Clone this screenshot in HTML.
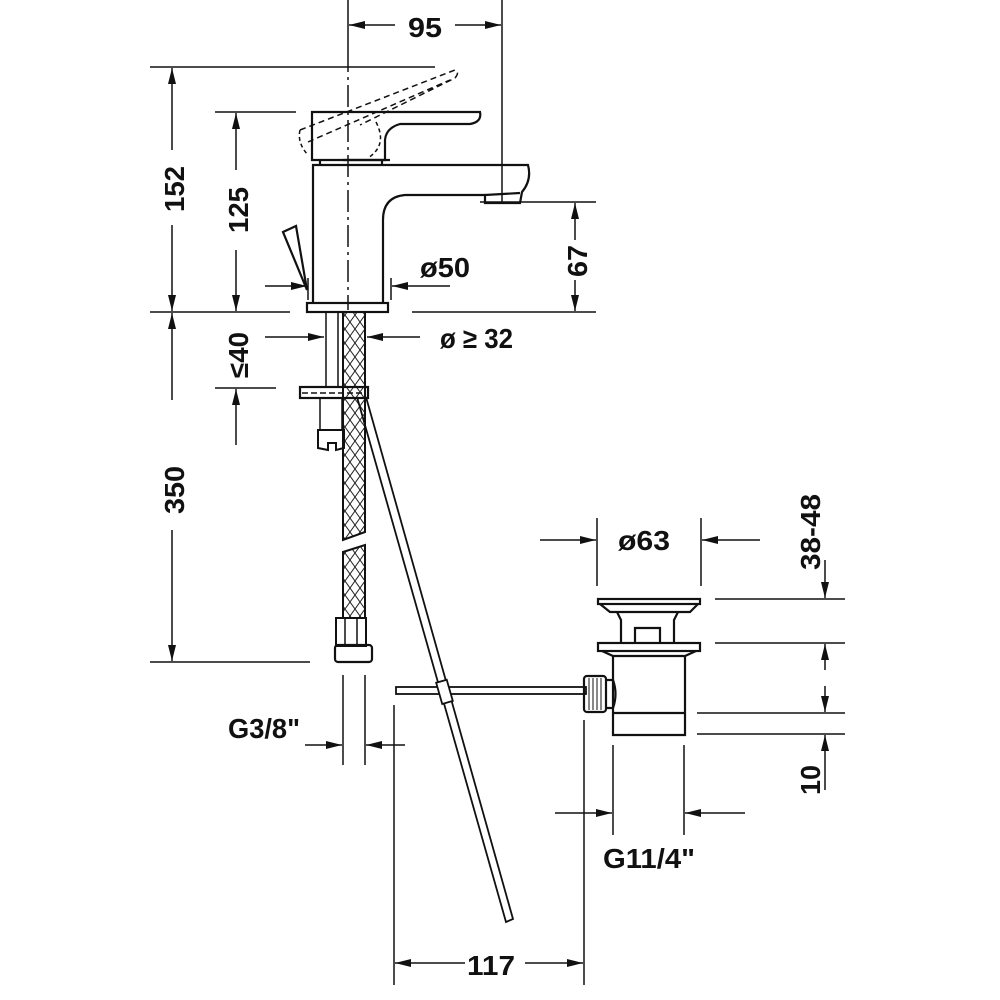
<!DOCTYPE html>
<html><head><meta charset="utf-8"><style>
html,body{margin:0;padding:0;background:#fff}
svg{display:block}
text{font-family:"Liberation Sans",sans-serif;font-weight:bold;font-size:28px;fill:#111}
</style></head><body>
<svg width="1000" height="1000" viewBox="0 0 1000 1000" xmlns="http://www.w3.org/2000/svg">
<defs>
<marker id="a" viewBox="0 0 16 8" refX="16" refY="4" markerWidth="16" markerHeight="8" markerUnits="userSpaceOnUse" orient="auto"><path d="M0,0 L16,4 L0,8 Z" fill="#111"/></marker>
<pattern id="braid" width="10" height="14" patternUnits="userSpaceOnUse"><path d="M0,0 L10,14 M10,0 L0,14" stroke="#222" stroke-width="1" fill="none"/></pattern>
</defs>
<g stroke="#111" stroke-width="1.5" fill="none">
<!-- 95 -->
<line x1="348" y1="0" x2="348" y2="50"/>
<line x1="502" y1="0" x2="502" y2="202"/>
<line x1="395" y1="25" x2="349" y2="25" marker-end="url(#a)"/>
<line x1="455" y1="25" x2="501" y2="25" marker-end="url(#a)"/>
<!-- center line -->
<line x1="348" y1="50" x2="348" y2="310" stroke-dasharray="22,5,3,5"/>
<!-- 152 -->
<line x1="150" y1="67" x2="435" y2="67"/>
<line x1="172" y1="150" x2="172" y2="68" marker-end="url(#a)"/>
<line x1="172" y1="225" x2="172" y2="311" marker-end="url(#a)"/>
<line x1="150" y1="312" x2="290" y2="312"/>
<!-- 125 -->
<line x1="215" y1="112" x2="296" y2="112"/>
<line x1="236" y1="170" x2="236" y2="113" marker-end="url(#a)"/>
<line x1="236" y1="250" x2="236" y2="311" marker-end="url(#a)"/>
<!-- <=40 -->
<line x1="215" y1="388" x2="276" y2="388"/>
<line x1="236" y1="445" x2="236" y2="389" marker-end="url(#a)"/>
<!-- 350 -->
<line x1="172" y1="400" x2="172" y2="313" marker-end="url(#a)"/>
<line x1="172" y1="530" x2="172" y2="661" marker-end="url(#a)"/>
<line x1="150" y1="662" x2="310" y2="662"/>
<!-- 67 -->
<line x1="480" y1="202" x2="596" y2="202"/>
<line x1="412" y1="312" x2="596" y2="312"/>
<line x1="575" y1="240" x2="575" y2="203" marker-end="url(#a)"/>
<line x1="575" y1="280" x2="575" y2="311" marker-end="url(#a)"/>
<!-- o50 -->
<line x1="308" y1="278" x2="308" y2="300"/>
<line x1="391" y1="278" x2="391" y2="300"/>
<line x1="265" y1="286" x2="307" y2="286" marker-end="url(#a)"/>
<line x1="450" y1="286" x2="392" y2="286" marker-end="url(#a)"/>
<!-- o>=32 -->
<line x1="265" y1="337" x2="324" y2="337" marker-end="url(#a)"/>
<line x1="420" y1="337" x2="367" y2="337" marker-end="url(#a)"/>
<!-- G3/8 -->
<line x1="343" y1="675" x2="343" y2="765"/>
<line x1="365" y1="675" x2="365" y2="765"/>
<line x1="305" y1="745" x2="342" y2="745" marker-end="url(#a)"/>
<line x1="405" y1="745" x2="366" y2="745" marker-end="url(#a)"/>
<!-- 117 -->
<line x1="394" y1="705" x2="394" y2="985"/>
<line x1="584" y1="720" x2="584" y2="985"/>
<line x1="465" y1="963" x2="395" y2="963" marker-end="url(#a)"/>
<line x1="525" y1="963" x2="583" y2="963" marker-end="url(#a)"/>
<!-- o63 -->
<line x1="597" y1="518" x2="597" y2="586"/>
<line x1="701" y1="518" x2="701" y2="586"/>
<line x1="540" y1="540" x2="596" y2="540" marker-end="url(#a)"/>
<line x1="760" y1="540" x2="702" y2="540" marker-end="url(#a)"/>
<!-- right dims -->
<line x1="715" y1="599" x2="845" y2="599"/>
<line x1="715" y1="643" x2="845" y2="643"/>
<line x1="697" y1="713" x2="845" y2="713"/>
<line x1="697" y1="734" x2="845" y2="734"/>
<line x1="825" y1="560" x2="825" y2="598" marker-end="url(#a)"/>
<line x1="825" y1="670" x2="825" y2="644" marker-end="url(#a)"/>
<line x1="825" y1="686" x2="825" y2="712" marker-end="url(#a)"/>
<line x1="825" y1="790" x2="825" y2="735" marker-end="url(#a)"/>
<!-- G11/4 -->
<line x1="613" y1="745" x2="613" y2="835"/>
<line x1="684" y1="745" x2="684" y2="835"/>
<line x1="555" y1="813" x2="612" y2="813" marker-end="url(#a)"/>
<line x1="745" y1="813" x2="685" y2="813" marker-end="url(#a)"/>

<!-- faucet -->
<g stroke-width="2.2">
<path d="M313,302 L313,165 L528,165 Q532,180 522,192 L520,203 L485,203 L485,195 L405,195 Q383,197 383,220 L383,302"/>
<path d="M485,195 L520,193"/>
<rect x="307" y="303" width="81" height="9"/>
<path d="M312,160 L312,112 L480,112 Q482,122 470,124 L400,124 Q386,128 385,140 L385,160 Z"/>
<path d="M320,160 L320,165 M382,160 L382,165"/>
<line x1="343" y1="160" x2="390" y2="160"/>
<path d="M283,232 L296,226 L307,290 Z"/>
</g>
<path d="M300,130 L455,70 Q460,72 455,78 L360,125 M308,142 L450,80" stroke-dasharray="6,4"/>
<path d="M300,130 Q297,143 308,155" stroke-dasharray="4,3"/>
<path d="M376,122 Q388,145 368,158" stroke-dasharray="4,3"/>

<!-- shanks & hose -->
<line x1="326" y1="312" x2="326" y2="388"/>
<line x1="338" y1="312" x2="338" y2="388"/>
<path d="M343,312 L365,312 L365,532 L343,540 Z" fill="url(#braid)" stroke-width="2"/>
<path d="M343,552 L365,545 L365,618 L343,618 Z" fill="url(#braid)" stroke-width="2"/>
<rect x="300" y="387" width="68" height="11" stroke-width="2.2"/>
<line x1="302" y1="393" x2="366" y2="393" stroke-dasharray="6,3"/>
<rect x="320" y="398" width="22" height="32"/>
<path d="M318,430 L344,430 L344,448 L336,450 L336,443 L328,443 L328,450 L318,448 Z" stroke-width="2"/>
<rect x="336" y="618" width="30" height="28" stroke-width="2"/>
<line x1="345" y1="618" x2="345" y2="646"/><line x1="357" y1="618" x2="357" y2="646"/>
<rect x="335" y="645" width="37" height="17" rx="3" stroke-width="2.2"/>

<!-- pull rod -->
<path d="M357,397 L506,922 L513,919 L366,397" stroke-width="1.8"/>
<rect x="396" y="687" width="190" height="7" stroke-width="1.8"/>
<rect x="439" y="681" width="11" height="22" transform="rotate(-16 444 692)" stroke-width="1.8" fill="#fff"/>

<!-- drain -->
<g stroke-width="2.2">
<rect x="598" y="599" width="102" height="5"/>
<path d="M600,604 L610,612 L690,612 L698,604"/>
<path d="M617,612 L621,620 L621,643 M678,612 L674,620 L674,643"/>
<path d="M635,643 L635,628 L660,628 L660,643"/>
<rect x="598" y="643" width="102" height="8"/>
<path d="M602,651 L613,656 L685,656 L696,651"/>
<path d="M613,656 L613,735 L685,735 L685,656"/>
<line x1="613" y1="713" x2="685" y2="713"/>
<rect x="584" y="676" width="22" height="36" rx="3"/>
<path d="M606,680 L613,680 Q618,694 613,708 L606,708"/>
</g>
<g stroke-width="1">
<line x1="589" y1="678" x2="589" y2="710"/><line x1="593" y1="678" x2="593" y2="710"/><line x1="597" y1="678" x2="597" y2="710"/><line x1="601" y1="678" x2="601" y2="710"/>
</g>
</g>

<!-- labels -->
<text x="408" y="37" textLength="34" lengthAdjust="spacingAndGlyphs">95</text>
<text transform="translate(184,212) rotate(-90)" textLength="46" lengthAdjust="spacingAndGlyphs">152</text>
<text transform="translate(248,233) rotate(-90)" textLength="46" lengthAdjust="spacingAndGlyphs">125</text>
<text transform="translate(248,378) rotate(-90)" textLength="46" lengthAdjust="spacingAndGlyphs">≤40</text>
<text transform="translate(184,514) rotate(-90)" textLength="48" lengthAdjust="spacingAndGlyphs">350</text>
<text transform="translate(587,277) rotate(-90)" textLength="32" lengthAdjust="spacingAndGlyphs">67</text>
<text x="420" y="277" textLength="50" lengthAdjust="spacingAndGlyphs">ø50</text>
<text x="440" y="348" textLength="73" lengthAdjust="spacingAndGlyphs">ø ≥ 32</text>
<text x="228" y="738" textLength="72" lengthAdjust="spacingAndGlyphs">G3/8"</text>
<text x="467" y="975" textLength="48" lengthAdjust="spacingAndGlyphs">117</text>
<text x="618" y="550" textLength="52" lengthAdjust="spacingAndGlyphs">ø63</text>
<text transform="translate(820,570) rotate(-90)" textLength="76" lengthAdjust="spacingAndGlyphs">38-48</text>
<text transform="translate(820,795) rotate(-90)" textLength="30" lengthAdjust="spacingAndGlyphs">10</text>
<text x="603" y="868" textLength="92" lengthAdjust="spacingAndGlyphs">G11/4"</text>
</svg>
</body></html>
